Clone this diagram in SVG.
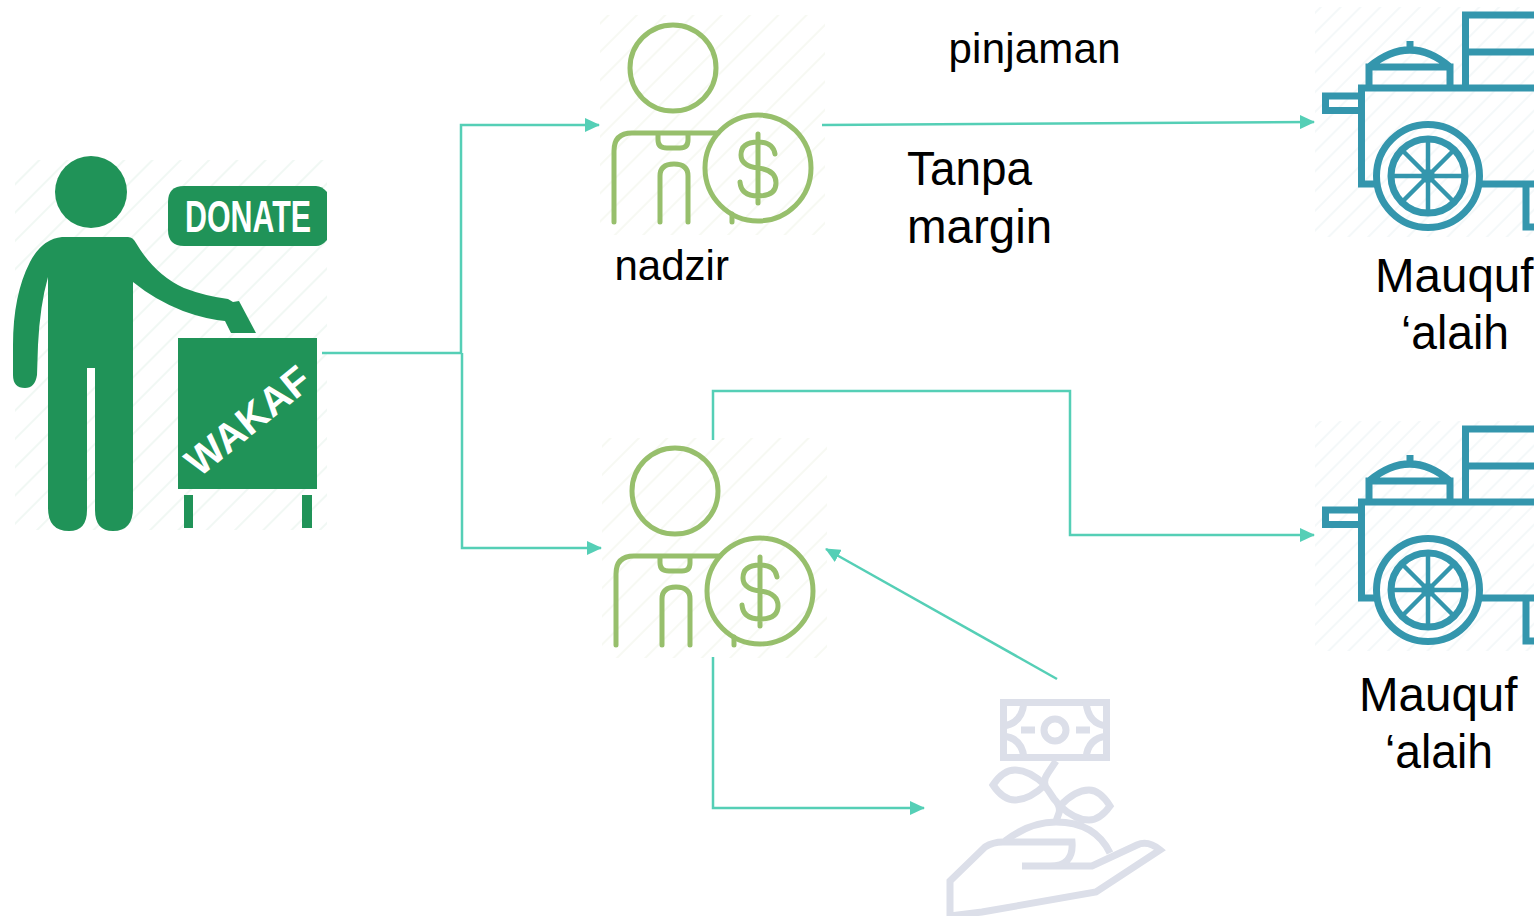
<svg xmlns="http://www.w3.org/2000/svg" xmlns:xlink="http://www.w3.org/1999/xlink" width="1534" height="916" viewBox="0 0 1534 916">
<style>
text{font-family:"Liberation Sans",Arial,sans-serif;fill:#000}
.l42{font-size:42px}.l48{font-size:47.500px}
.conn{fill:none;stroke:#55cfb6;stroke-width:2.500;marker-end:url(#arrow)}
.grn{fill:#209358}
.ol{fill:none;stroke:#97bf6c;stroke-width:5;stroke-linecap:round;stroke-linejoin:round}
.cart{fill:none;stroke:#3496ad;stroke-width:7}
.mon{fill:none;stroke:#dcdfe9;stroke-width:7}
</style>
<defs>
<marker id="arrow" markerWidth="15" markerHeight="14" refX="14" refY="7" orient="auto" markerUnits="userSpaceOnUse"><path d="M0 0L15 7L0 14Z" fill="#55cfb6"/></marker>
<pattern id="hG" width="20" height="20" patternUnits="userSpaceOnUse" patternTransform="rotate(-45)"><rect width="20" height="2" fill="#f1f8f4"/></pattern>
<pattern id="hO" width="20" height="20" patternUnits="userSpaceOnUse" patternTransform="rotate(-45)"><rect width="20" height="2" fill="#f7f9f3"/></pattern>
<pattern id="hC" width="14" height="14" patternUnits="userSpaceOnUse" patternTransform="rotate(-45)"><rect width="14" height="2" fill="#f4f8f9"/></pattern>
<g id="person">
<rect x="600" y="15" width="225" height="220" fill="url(#hO)"/>
<circle cx="673" cy="68" r="43" class="ol"/>
<path class="ol" d="M614 222V151Q614 133 632 133H718M658 133V140Q658 148 667 148H680Q688 148 688 140V133M660 222V176Q660 164 674 164Q688 164 688 176V222M732 214V222"/>
<circle cx="758" cy="168" r="53" class="ol"/>
<path class="ol" d="M758 134V203M775 154Q773 142 758 142Q741 142 741 155Q741 166 758 168Q776 170 776 183Q776 196 758 196Q741 196 740 182"/>
</g>
<g id="cart">
<rect x="1315" y="7" width="219" height="230" fill="url(#hC)"/>
<path class="cart" d="M1534 15H1465.500V88M1465.500 52H1534M1534 88H1361.500V184H1376M1358 96H1325.500V110.500H1358M1369 88V67H1450V88M1369 67Q1410 33 1450 67M1410 41V52M1481 184H1534M1526 184V227H1534"/>
<circle cx="1428" cy="176" r="51.500" class="cart"/>
<circle cx="1428" cy="176" r="37" class="cart"/>
<path d="M1428 139V213M1391 176H1465M1402 150L1454 202M1454 150L1402 202" fill="none" stroke="#3496ad" stroke-width="4.500"/>
<circle cx="1428" cy="176" r="7" fill="#3496ad"/>
</g>
</defs>

<g id="donor">
<rect x="15" y="160" width="312" height="370" fill="url(#hG)"/>
<circle class="grn" cx="91" cy="192" r="36"/>
<path class="grn" d="M62 237H128Q133 237 136 243Q155 275 184 288Q205 296 228 299L233 302L239 301L256 333L231 333L225 321Q205 319 183 311Q155 300 133 282V508Q133 531 113 531Q95 531 95 510V368H87V510Q87 531 69 531Q48 531 48 508V277Q40 305 38 345L37 375Q35 388 25 388Q13 388 13 375V345Q13 295 30 262Q42 239 62 237Z"/>
<rect class="grn" x="178" y="338" width="139" height="151"/>
<rect class="grn" x="184" y="495" width="9" height="33"/>
<rect class="grn" x="302" y="495" width="10" height="33"/>
<path class="grn" d="M184 186H316Q322 186 327 192V240Q322 246 316 246H184Q168 246 168 230V202Q168 186 184 186Z"/>
<text x="185" y="232" font-size="44" font-weight="700" textLength="126" lengthAdjust="spacingAndGlyphs" style="fill:#fff">DONATE</text>
<text transform="translate(199 478) rotate(-39)" font-size="40" font-weight="700" textLength="148" lengthAdjust="spacingAndGlyphs" style="fill:#fff">WAKAF</text>
</g>

<g id="nadzir1"><use href="#person" xlink:href="#person"/>
<text class="l42" x="614.500" y="280">nadzir</text></g>
<g id="nadzir2" transform="translate(2 423)"><use href="#person" xlink:href="#person"/></g>

<g id="cart1"><use href="#cart" xlink:href="#cart"/>
<text class="l48" x="1375" y="292">Mauquf</text>
<text class="l48" x="1401" y="349" textLength="108" lengthAdjust="spacingAndGlyphs">‘alaih</text></g>
<g id="cart2"><use href="#cart" xlink:href="#cart" transform="translate(0 414)"/>
<text class="l48" x="1359" y="711">Mauquf</text>
<text class="l48" x="1385" y="768" textLength="108" lengthAdjust="spacingAndGlyphs">‘alaih</text></g>

<g id="money">
<rect class="mon" x="1003.500" y="702.500" width="103" height="55"/>
<circle class="mon" cx="1055" cy="730" r="11"/>
<path class="mon" d="M1021 730H1035M1076 730H1090M1003 726Q1022 724 1024 702M1107 726Q1088 724 1086 702M1003 736Q1022 738 1024 758M1107 736Q1088 738 1086 758"/>
<path class="mon" d="M1056 761L1048 773Q1041 783 1048 790L1054 799Q1061 806 1059 813L1055 824M1045 785Q1029 770 1015 770Q1003 770 993 785Q1003 800 1015 800Q1029 800 1045 785M1060 806Q1075 790 1089 790Q1100 790 1110 806Q1100 820 1089 820Q1075 820 1060 806M1005 841Q1030 822 1056 822Q1095 822 1110 853"/>
<path class="mon" d="M950 916V881L985 847Q993 842 1003 842H1072Q1074 866 1050 866H1022H1092L1137 845Q1148 840 1160 850L1096 892L982 912L950 916"/>
</g>

<g id="connectors" class="connectors">
<path d="M322 353H462" fill="none" stroke="#55cfb6" stroke-width="2.500"/>
<path class="conn" d="M461 353V125H599"/>
<path class="conn" d="M462 353V548H601"/>
<path class="conn" d="M822 125L1314 122"/>
<path class="conn" d="M713 440V391H1070V535H1314"/>
<path class="conn" d="M713 657V808H924"/>
<path class="conn" d="M1057 679L826 549"/>
</g>

<text id="label-pinjaman" class="l42" x="948.500" y="63" textLength="172">pinjaman</text>
<g id="label-tanpa"><text class="l48" x="907" y="185" textLength="125" lengthAdjust="spacingAndGlyphs">Tanpa</text>
<text class="l48" x="907" y="243">margin</text></g>
</svg>
